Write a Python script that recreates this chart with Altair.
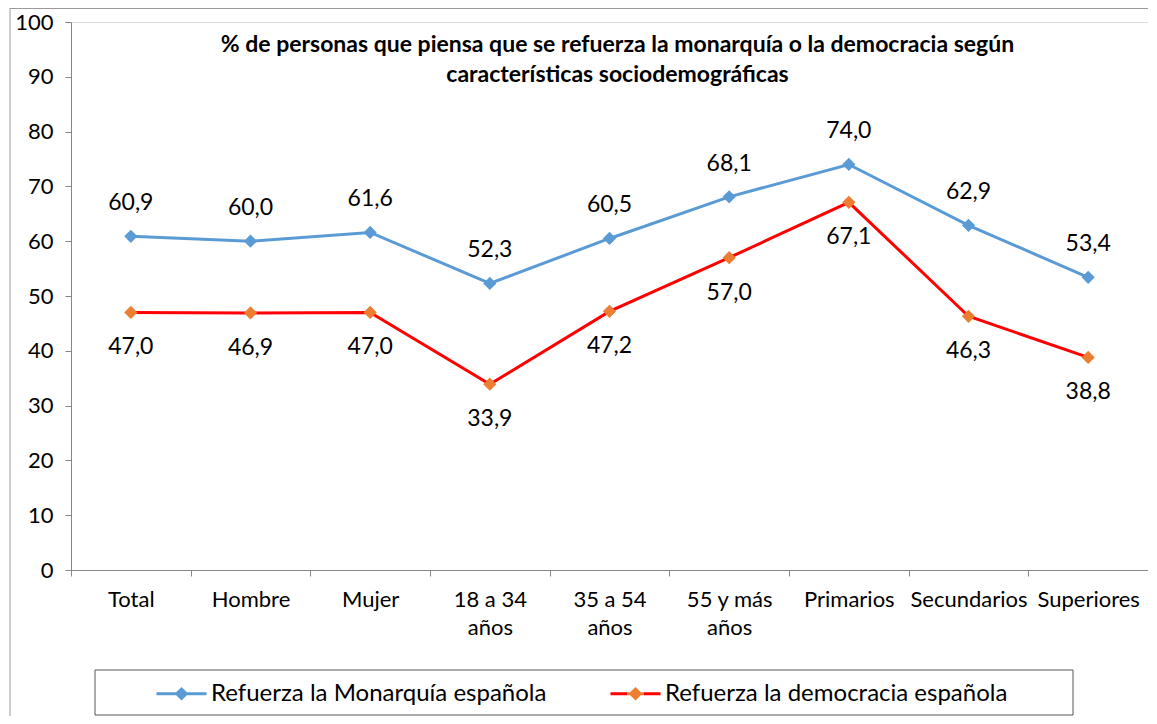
import altair as alt
import pandas as pd

categorias = ["Total", "Hombre", "Mujer", "18 a 34 años", "35 a 54 años",
              "55 y más años", "Primarios", "Secundarios", "Superiores"]
monarquia = [60.9, 60.0, 61.6, 52.3, 60.5, 68.1, 74.0, 62.9, 53.4]
democracia = [47.0, 46.9, 47.0, 33.9, 47.2, 57.0, 67.1, 46.3, 38.8]
series = ["Refuerza la Monarquía española", "Refuerza la democracia española"]
line_colors = ["#5B9BD5", "#FF0000"]
marker_colors = ["#5B9BD5", "#ED7D31"]
y_ticks = list(range(0, 101, 10))
titulo = ["% de personas que piensa que se refuerza la monarquía o la democracia según",
          "características sociodemográficas"]

rows = []
for s, vals in zip(series, [monarquia, democracia]):
    for c, v in zip(categorias, vals):
        rows.append({"categoria": c, "serie": s, "valor": v,
                     "etiqueta": f"{v:.1f}".replace(".", ",")})
df = pd.DataFrame(rows)
deco = pd.DataFrame({"k": [0]})

W, H = 1077, 548
FONT = "Lato"
AXC = "#868686"

x = alt.X("categoria:N", sort=categorias,
          scale=alt.Scale(type="band", paddingInner=0, paddingOuter=0),
          axis=alt.Axis(title=None, labelAngle=0, tickBand="extent",
                        labelExpr="indexof(datum.label, ' años') > 0 ? [replace(datum.label, ' años', ''), 'años'] : datum.label",
                        labelFontSize=22, labelFont=FONT, labelColor="#000",
                        labelPadding=13, labelLineHeight=28, tickSize=6,
                        domainColor=AXC, tickColor=AXC, labelBaseline="top"))
y = alt.Y("valor:Q", scale=alt.Scale(domain=[0, 100], nice=False),
          axis=alt.Axis(title=None, values=y_ticks, grid=False, tickSize=6,
                        labelPadding=12, labelFontSize=22, labelFont=FONT,
                        labelColor="#000", domainColor=AXC, tickColor=AXC))


def col_expr(c0, c1):
    return f"datum.value === '{series[1]}' ? {c1} : {c0}"


grad_red = ("{gradient: 'linear', x1: 0, y1: 0, x2: 1, y2: 0, stops: ["
            f"{{offset: 0, color: '{line_colors[1]}'}}, {{offset: 0.33, color: '{line_colors[1]}'}}, "
            f"{{offset: 0.33, color: '{marker_colors[1]}'}}, {{offset: 0.67, color: '{marker_colors[1]}'}}, "
            f"{{offset: 0.67, color: '{line_colors[1]}'}}, {{offset: 1, color: '{line_colors[1]}'}}]}}")

leyenda = alt.Legend(
    orient="none", legendX=84, legendY=645, direction="horizontal", columns=2,
    columnPadding=57, symbolSize=2500,
    symbolType="M-1,0L1,0M0,-0.19L0.19,0L0,0.19L-0.19,0Z",
    symbolStrokeWidth=3, labelOffset=3, labelFontSize=24, labelFont=FONT,
    labelColor="#000", title=None, padding=0, labelLimit=700,
    symbolFillColor=alt.ExprRef(expr=col_expr(f"'{marker_colors[0]}'", f"'{marker_colors[1]}'")),
    symbolStrokeColor=alt.ExprRef(expr=col_expr(f"'{line_colors[0]}'", grad_red)),
)

lineas = alt.Chart(df).mark_line(strokeWidth=3).encode(
    x=x, y=y,
    color=alt.Color("serie:N", scale=alt.Scale(domain=series, range=line_colors),
                    legend=None),
    opacity=alt.Opacity("serie:N", scale=alt.Scale(domain=series, range=[1, 1]),
                        legend=leyenda))

puntos = alt.Chart(df).mark_point(shape="diamond", filled=True, size=175, opacity=1).encode(
    x=x, y=y,
    color=alt.Color("serie:N", scale=alt.Scale(domain=series, range=marker_colors),
                    legend=None))

lab_m = alt.Chart(df).transform_filter(alt.datum.serie == series[0]).mark_text(
    dy=-33, fontSize=23, font=FONT, color="#000").encode(x=x, y=y, text="etiqueta:N")
lab_d = alt.Chart(df).transform_filter(alt.datum.serie == series[1]).mark_text(
    dy=35, fontSize=23, font=FONT, color="#000").encode(x=x, y=y, text="etiqueta:N")

caja = alt.Chart(deco).mark_rect(fill="transparent", stroke="#595959", strokeWidth=1).encode(
    x=alt.value(24), x2=alt.value(1002), y=alt.value(648), y2=alt.value(693))
borde_izq = alt.Chart(deco).mark_rule(color="#9a9a9a").encode(
    x=alt.value(-61), y=alt.value(-14), y2=alt.value(694))
borde_sup = alt.Chart(deco).mark_rule(color="#9a9a9a").encode(
    x=alt.value(-61), x2=alt.value(W), y=alt.value(-13.5))

titulo_txt = alt.Chart(deco).mark_text(
    fontSize=23, fontWeight="bold", font=FONT, baseline="middle", lineHeight=30,
    color="#000").encode(x=alt.value(W / 2 + 8), y=alt.value(23), text=alt.value(titulo))

chart = alt.layer(borde_izq, borde_sup, caja, lineas, puntos, lab_m, lab_d, titulo_txt).resolve_scale(
    color="independent").properties(
    width=W, height=H, autosize="none",
    padding={"left": 63, "top": 14, "right": 0, "bottom": 146}
).configure_view(stroke=None).configure(background="white")

chart.save("out.html", embed_options={"renderer": "svg", "actions": False})
